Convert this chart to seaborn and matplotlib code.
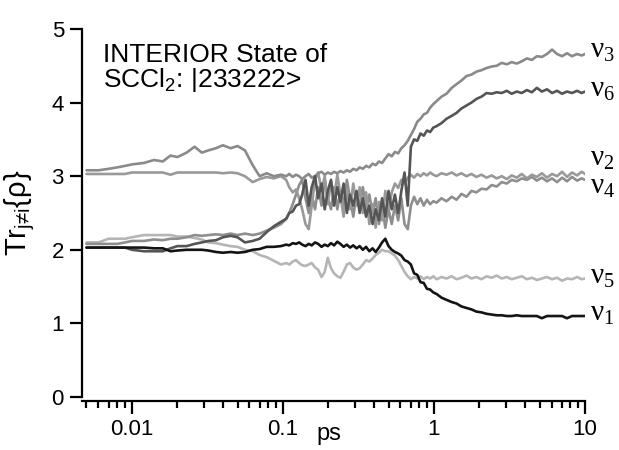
import numpy as np
import pandas as pd
import seaborn as sns
import matplotlib
matplotlib.use('Agg')
import matplotlib.pyplot as plt
from matplotlib.ticker import FixedLocator, FixedFormatter, NullFormatter

# time grid (ps)
t_early = [0.005, 0.006, 0.007, 0.008, 0.009, 0.010, 0.012, 0.014, 0.016, 0.018,
           0.020, 0.023, 0.026, 0.029, 0.032, 0.036, 0.040, 0.045, 0.050, 0.056,
           0.063, 0.070, 0.078, 0.087, 0.097]
t_mid = [0.105, 0.110, 0.116, 0.122, 0.128, 0.134, 0.141, 0.148, 0.155, 0.163,
         0.171, 0.180, 0.189, 0.198, 0.208, 0.218, 0.229, 0.240, 0.252, 0.265,
         0.278, 0.292, 0.307, 0.322, 0.338, 0.355, 0.373, 0.392, 0.411, 0.432,
         0.453, 0.476, 0.500, 0.525, 0.551, 0.579, 0.608, 0.638, 0.670, 0.703,
         0.738, 0.775, 0.814, 0.855, 0.898, 0.943, 0.990]
t_late = [1.04, 1.12, 1.21, 1.31, 1.41, 1.52, 1.64, 1.77, 1.91, 2.06,
          2.23, 2.41, 2.60, 2.81, 3.03, 3.27, 3.53, 3.81, 4.12, 4.45,
          4.80, 5.18, 5.60, 6.05, 6.53, 7.05, 7.60, 8.20, 8.86, 9.50, 10.0]
t = t_early + t_mid + t_late

nu1 = ([2.03, 2.03, 2.03, 2.03, 2.03, 2.03, 2.03, 2.02, 2.02, 1.98,
        1.99, 2.0, 2.0, 2.0, 1.99, 1.97, 1.96, 1.97, 1.96, 1.97,
        2.0, 2.01, 2.04, 2.04, 2.05] +
       [2.07, 2.06, 2.09, 2.08, 2.1, 2.07, 2.05, 2.08, 2.06, 2.1,
        2.08, 2.04, 2.07, 2.05, 2.09, 2.06, 2.11, 2.08, 2.04, 2.07,
        2.03, 2.06, 2.02, 2.05, 2.0, 2.04, 1.98, 2.02, 1.97, 2.03,
        2.1, 2.15, 2.05, 2.0, 1.97, 1.95, 1.92, 1.86, 1.84, 1.8,
        1.68, 1.66, 1.56, 1.55, 1.47, 1.46, 1.42] +
       [1.4, 1.35, 1.32, 1.29, 1.27, 1.23, 1.21, 1.19, 1.16, 1.15,
        1.13, 1.12, 1.11, 1.11, 1.1, 1.1, 1.11, 1.1, 1.1, 1.1,
        1.1, 1.07, 1.1, 1.1, 1.1, 1.1, 1.07, 1.1, 1.1, 1.1, 1.1])

nu2 = ([3.03, 3.03, 3.03, 3.03, 3.03, 3.05, 3.05, 3.05, 3.05, 3.02,
        3.05, 3.05, 3.05, 3.05, 3.05, 3.05, 3.04, 3.05, 3.04, 3.0,
        2.92, 2.96, 2.99, 2.97, 3.0] +
       [2.95, 2.85, 2.78, 2.82, 2.7, 2.55, 2.35, 2.28, 2.6, 2.95,
        3.05, 2.8, 3.0, 2.62, 2.92, 2.7, 3.02, 2.75, 2.45, 2.82,
        2.55, 2.9, 2.6, 2.85, 2.5, 2.78, 2.35, 2.62, 2.3, 2.65,
        2.4, 2.8, 2.55, 2.78, 2.9, 2.84, 2.95, 2.9, 2.98, 3.02,
        2.98, 3.03, 3.0, 3.04, 3.01, 3.05, 3.02] +
       [3.0, 3.04, 3.02, 3.05, 3.01, 3.04, 3.0, 3.03, 2.99, 3.02,
        2.98, 3.01, 2.97, 3.0, 2.96, 3.01, 2.98, 3.03, 2.97, 3.02,
        2.99, 3.04, 2.98, 3.03, 3.0, 3.06, 2.99, 3.05, 3.01, 3.06, 3.03])

nu3 = ([3.08, 3.08, 3.1, 3.12, 3.14, 3.16, 3.18, 3.22, 3.2, 3.28,
        3.26, 3.32, 3.4, 3.32, 3.35, 3.38, 3.42, 3.38, 3.41, 3.35,
        3.15, 3.0, 3.04, 3.0, 3.02] +
       [3.0, 3.03, 2.99, 3.02, 3.0, 2.96, 3.0, 3.03, 2.98, 3.0,
        3.04, 3.06, 3.02, 3.05, 3.03, 3.06, 3.04, 3.07, 3.05, 3.08,
        3.06, 3.1, 3.08, 3.12, 3.1, 3.14, 3.12, 3.17, 3.15, 3.2,
        3.18, 3.24, 3.3, 3.27, 3.33, 3.31, 3.38, 3.42, 3.48, 3.56,
        3.64, 3.74, 3.78, 3.84, 3.86, 3.93, 3.98] +
       [4.02, 4.08, 4.12, 4.2, 4.25, 4.3, 4.36, 4.38, 4.42, 4.44,
        4.47, 4.49, 4.5, 4.54, 4.52, 4.55, 4.53, 4.56, 4.6, 4.58,
        4.63, 4.62, 4.66, 4.72, 4.66, 4.63, 4.67, 4.63, 4.66, 4.64, 4.66])

nu4 = ([2.08, 2.08, 2.08, 2.08, 2.1, 2.12, 2.12, 2.14, 2.13, 2.15,
        2.15, 2.17, 2.2, 2.19, 2.2, 2.21, 2.2, 2.22, 2.2, 2.22,
        2.2, 2.22, 2.26, 2.3, 2.35] +
       [2.42, 2.5, 2.62, 2.75, 2.88, 2.95, 2.7, 2.5, 2.75, 2.55,
        2.85, 2.6, 2.95, 2.7, 2.55, 2.85, 2.55, 2.8, 2.6, 2.95,
        2.7, 2.45, 2.75, 2.6, 2.85, 2.55, 2.75, 2.5, 2.7, 2.35,
        2.6, 2.3, 2.55, 2.35, 2.6, 2.4, 2.7, 2.35, 2.28, 2.6,
        2.72, 2.62, 2.7, 2.6, 2.68, 2.62, 2.66] +
       [2.64, 2.7, 2.66, 2.72, 2.68, 2.76, 2.72, 2.8, 2.78, 2.83,
        2.82, 2.88, 2.86, 2.92, 2.9, 2.95, 2.93, 2.97, 2.95, 2.99,
        2.94, 2.98, 2.93, 2.97, 2.92, 2.98, 2.93, 2.99, 2.94, 2.97, 2.95])

nu5 = ([2.1, 2.1, 2.15, 2.15, 2.15, 2.17, 2.2, 2.2, 2.2, 2.2,
        2.18, 2.18, 2.16, 2.14, 2.1, 2.09, 2.07, 2.05, 2.04, 2.0,
        1.98, 1.93, 1.9, 1.85, 1.8] +
       [1.82, 1.8, 1.84, 1.86, 1.82, 1.79, 1.78, 1.8, 1.82, 1.76,
        1.73, 1.63, 1.7, 1.89, 1.75, 1.68, 1.64, 1.62, 1.7, 1.8,
        1.82, 1.76, 1.73, 1.75, 1.8, 1.86, 1.84, 1.88, 1.93, 1.96,
        2.0, 1.98, 1.98, 1.95, 1.92, 1.86, 1.78, 1.7, 1.64, 1.6,
        1.63, 1.61, 1.64, 1.6, 1.63, 1.61, 1.64] +
       [1.6, 1.63, 1.61, 1.64, 1.6, 1.62, 1.65, 1.61, 1.63, 1.6,
        1.64, 1.62, 1.65, 1.61, 1.63, 1.6, 1.62, 1.64, 1.6, 1.62,
        1.59, 1.61, 1.63, 1.6, 1.62, 1.58, 1.61, 1.6, 1.63, 1.6, 1.61])

nu6 = ([2.03, 2.03, 2.03, 2.03, 2.03, 2.0, 1.98, 1.98, 1.98, 2.02,
        2.05, 2.05, 2.08, 2.1, 2.12, 2.13, 2.17, 2.19, 2.17, 2.1,
        2.12, 2.15, 2.24, 2.32, 2.38] +
       [2.42, 2.5, 2.52, 2.6, 2.62, 2.75, 2.95, 2.6, 2.85, 3.0,
        2.7, 2.9, 2.55, 2.8, 2.95, 2.6, 2.85, 2.65, 2.9, 2.5,
        2.75, 2.6, 2.8, 2.5, 2.7, 2.45, 2.6, 2.35, 2.55, 2.4,
        2.7, 2.45, 2.8, 2.55, 2.75, 2.5, 2.8, 3.05, 2.6, 3.4,
        3.5, 3.48, 3.58, 3.55, 3.62, 3.6, 3.66] +
       [3.68, 3.72, 3.78, 3.82, 3.86, 3.92, 3.96, 4.0, 4.05, 4.08,
        4.13, 4.12, 4.14, 4.13, 4.16, 4.12, 4.15, 4.13, 4.17, 4.14,
        4.2, 4.15, 4.18, 4.13, 4.16, 4.12, 4.15, 4.13, 4.16, 4.13, 4.15])

modes = ['5', '4', '2', '3', '6', '1']          # drawing order, black last
series = {'1': nu1, '2': nu2, '3': nu3, '4': nu4, '5': nu5, '6': nu6}
colours = {'1': '#141414', '2': '#999999', '3': '#8a8a8a',
           '4': '#8e8e8e', '5': '#b5b5b5', '6': '#555555'}
# label baselines at the right edge
label_y = {'3': 4.61, '6': 4.08, '2': 3.15, '4': 2.77, '5': 1.55, '1': 1.05}

xticks = [0.01, 0.1, 1, 10]
xticklabels = ['0.01', '0.1', '1', '10']
yticks = [0, 1, 2, 3, 4, 5]

df = pd.concat([pd.DataFrame({'t': t, 'tr': series[m], 'mode': m}) for m in modes],
               ignore_index=True)

sns.set_style('ticks')
plt.rcParams['font.family'] = ['Liberation Sans', 'DejaVu Sans']
plt.rcParams['text.color'] = 'black'
plt.rcParams['axes.labelcolor'] = 'black'

fig = plt.figure(figsize=(6.19, 4.5), dpi=100)
ax = fig.add_axes([0.1325, 0.1178, 0.8126, 0.8178])
ax.set_xscale('log')

sns.lineplot(data=df, x='t', y='tr', hue='mode', hue_order=modes, palette=colours,
             estimator=None, sort=False, legend=False, lw=1.9, ax=ax)

ax.set_xlim(0.00467, 10)
ax.set_ylim(0, 5)
ax.xaxis.set_major_locator(FixedLocator(xticks))
ax.xaxis.set_major_formatter(FixedFormatter(xticklabels))
ax.xaxis.set_minor_formatter(NullFormatter())
ax.set_yticks(yticks)
ax.set_yticklabels([str(v) for v in yticks])

for side in ['top', 'right']:
    ax.spines[side].set_visible(False)
for side in ['left', 'bottom']:
    ax.spines[side].set_linewidth(1.6)
    ax.spines[side].set_color('black')
ax.spines['bottom'].set_position(('outward', 3))

ax.tick_params(axis='both', which='major', length=9, width=1.6, colors='black',
               labelsize=16, pad=4)
ax.tick_params(axis='x', which='minor', length=5, width=1.6, colors='black')

ax.set_xlabel('ps', fontsize=17)
ax.xaxis.set_label_coords(0.49, -0.07)
ax.set_ylabel(r'Tr$_{\mathregular{j≠i}}${ρ}', fontsize=21)
ax.yaxis.set_label_coords(-0.09, 0.5)

ax.text(0.042, 0.910, 'INTERIOR State of', transform=ax.transAxes,
        fontsize=19, va='baseline', ha='left')
ax.text(0.042, 0.842, r'SCCl$_{\mathregular{2}}$: |233222>', transform=ax.transAxes,
        fontsize=19, va='baseline', ha='left')

for m, yv in label_y.items():
    ax.text(1.01, yv, r'ν$_{\mathregular{%s}}$' % m,
            transform=ax.get_yaxis_transform(), fontsize=21, va='baseline',
            ha='left', family=['Liberation Serif', 'DejaVu Serif'], clip_on=False)

fig.savefig('out.png', dpi=100)
